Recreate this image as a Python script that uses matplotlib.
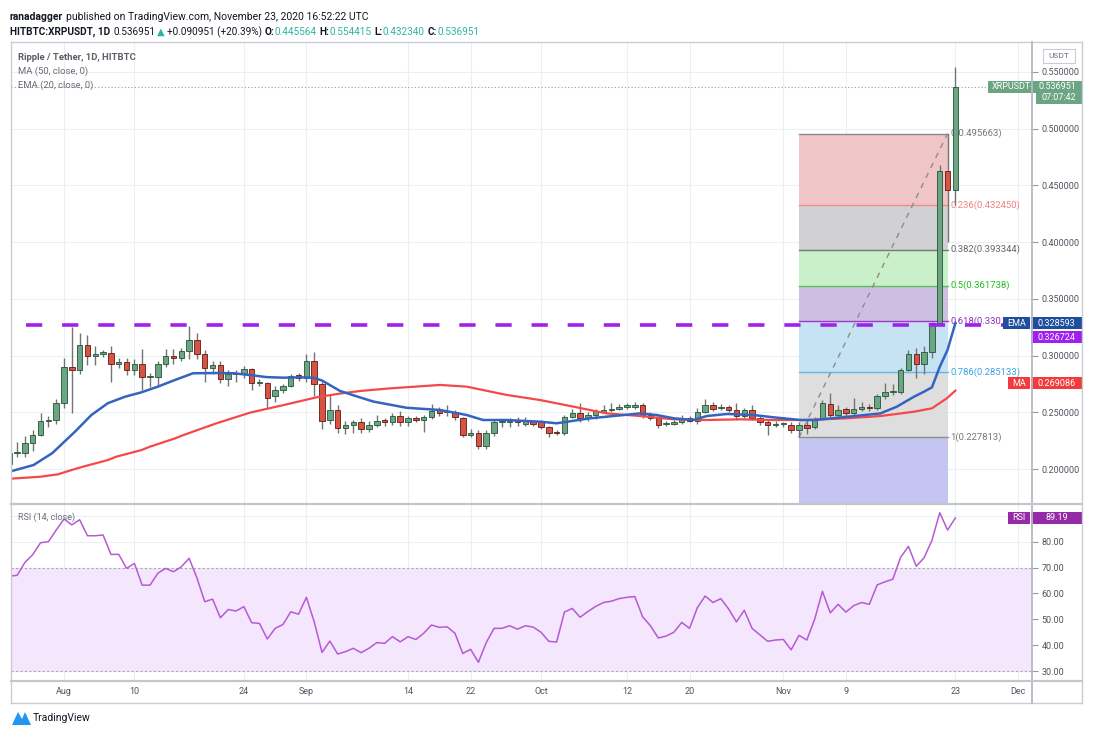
import numpy as np
import pandas as pd
import matplotlib
matplotlib.use('Agg')
import matplotlib.pyplot as plt
import matplotlib.dates as mdates
from matplotlib.transforms import blended_transform_factory, Bbox, TransformedBbox
from matplotlib.lines import Line2D
from matplotlib.patches import Rectangle, Polygon

plt.rcParams['font.family'] = ['Roboto', 'DejaVu Sans']

# ---- daily candles XRP/USDT (HitBTC), Jul 25 .. Nov 23 2020 ----
start_date = '2020-07-25'
end_date = '2020-11-23'

opens = [
    0.204, 0.214, 0.214, 0.223, 0.230, 0.242, 0.243,
    0.258, 0.290, 0.287, 0.309, 0.300, 0.301, 0.302, 0.293, 0.294, 0.287,
    0.293, 0.281, 0.281, 0.293, 0.300, 0.298, 0.304, 0.314, 0.301, 0.289,
    0.292, 0.279, 0.284, 0.284, 0.288, 0.276, 0.276, 0.264, 0.270, 0.273, 0.283,
    0.280, 0.295, 0.275, 0.243, 0.252, 0.236, 0.239, 0.241, 0.235, 0.239,
    0.243, 0.241, 0.247, 0.241, 0.245, 0.243, 0.246, 0.252, 0.250, 0.250,
    0.245, 0.230, 0.232, 0.220, 0.232, 0.241, 0.241, 0.243, 0.240, 0.242,
    0.241, 0.237, 0.232, 0.232, 0.246, 0.249, 0.245, 0.248, 0.250, 0.252,
    0.253, 0.255, 0.255, 0.256, 0.248, 0.245, 0.2395, 0.240, 0.241, 0.245,
    0.242, 0.250, 0.256, 0.2535, 0.255, 0.252, 0.247, 0.252, 0.245, 0.241, 0.239,
    0.2395, 0.239, 0.234, 0.239, 0.237, 0.245, 0.257, 0.248, 0.2526, 0.249,
    0.2526, 0.255, 0.2535, 0.264, 0.268, 0.268, 0.287, 0.301, 0.293, 0.303,
    0.3285, 0.463, 0.445564,
]
highs = [
    0.216, 0.224, 0.229, 0.234, 0.249, 0.247, 0.262,
    0.298, 0.325, 0.320, 0.318, 0.308, 0.305, 0.308, 0.298, 0.298, 0.297,
    0.306, 0.285, 0.295, 0.306, 0.306, 0.307, 0.326, 0.320, 0.305, 0.295,
    0.295, 0.287, 0.287, 0.291, 0.289, 0.279, 0.277, 0.273, 0.275, 0.284, 0.285,
    0.301, 0.303, 0.277, 0.265, 0.256, 0.242, 0.243, 0.245, 0.242, 0.248,
    0.245, 0.249, 0.251, 0.247, 0.247, 0.248, 0.257, 0.255, 0.256, 0.252,
    0.246, 0.235, 0.234, 0.234, 0.244, 0.244, 0.245, 0.246, 0.246, 0.243,
    0.243, 0.238, 0.234, 0.248, 0.253, 0.258, 0.250, 0.253, 0.256, 0.258,
    0.257, 0.258, 0.259, 0.258, 0.250, 0.247, 0.242, 0.243, 0.248, 0.247,
    0.254, 0.262, 0.259, 0.257, 0.256, 0.258, 0.254, 0.256, 0.247, 0.243, 0.242,
    0.241, 0.241, 0.241, 0.243, 0.246, 0.261, 0.267, 0.256, 0.255, 0.263,
    0.259, 0.257, 0.266, 0.276, 0.275, 0.289, 0.305, 0.307, 0.308, 0.330,
    0.468, 0.495663, 0.554415,
]
lows = [
    0.200, 0.211, 0.211, 0.216, 0.229, 0.237, 0.240,
    0.254, 0.249, 0.284, 0.292, 0.292, 0.299, 0.277, 0.289, 0.283, 0.283,
    0.270, 0.272, 0.274, 0.290, 0.293, 0.295, 0.297, 0.297, 0.277, 0.284,
    0.276, 0.273, 0.277, 0.280, 0.270, 0.273, 0.254, 0.259, 0.267, 0.272, 0.278,
    0.277, 0.264, 0.235, 0.240, 0.232, 0.231, 0.232, 0.232, 0.233, 0.237,
    0.238, 0.239, 0.238, 0.238, 0.241, 0.233, 0.244, 0.247, 0.247, 0.243,
    0.228, 0.228, 0.218, 0.218, 0.229, 0.237, 0.237, 0.238, 0.238, 0.238,
    0.235, 0.228, 0.230, 0.230, 0.245, 0.241, 0.242, 0.244, 0.249, 0.250,
    0.252, 0.253, 0.253, 0.245, 0.243, 0.236, 0.238, 0.239, 0.240, 0.241,
    0.240, 0.249, 0.251, 0.252, 0.250, 0.243, 0.245, 0.243, 0.239, 0.230, 0.237,
    0.237, 0.232, 0.227813, 0.231, 0.235, 0.243, 0.246, 0.246, 0.247, 0.247,
    0.251, 0.251, 0.252, 0.262, 0.265, 0.266, 0.286, 0.280, 0.284, 0.298,
    0.327, 0.4005, 0.43234,
]
closes = [
    0.214, 0.215, 0.223, 0.230, 0.242, 0.243, 0.258,
    0.290, 0.287, 0.309, 0.300, 0.301, 0.303, 0.293, 0.294, 0.287, 0.293,
    0.281, 0.282, 0.293, 0.300, 0.298, 0.304, 0.314, 0.301, 0.289, 0.292,
    0.279, 0.284, 0.2835, 0.288, 0.276, 0.2765, 0.263, 0.270, 0.273, 0.282, 0.280,
    0.295, 0.275, 0.242, 0.252, 0.236, 0.239, 0.241, 0.235, 0.239, 0.242,
    0.241, 0.247, 0.241, 0.245, 0.243, 0.246, 0.251, 0.2495, 0.251, 0.246,
    0.230, 0.232, 0.220, 0.232, 0.241, 0.2412, 0.242, 0.241, 0.242, 0.240,
    0.237, 0.232, 0.2315, 0.246, 0.249, 0.245, 0.248, 0.251, 0.252, 0.253,
    0.255, 0.256, 0.2565, 0.248, 0.245, 0.239, 0.240, 0.2415, 0.245, 0.2425,
    0.250, 0.256, 0.253, 0.255, 0.252, 0.247, 0.252, 0.245, 0.241, 0.239, 0.2395,
    0.2398, 0.234, 0.239, 0.236, 0.244, 0.258, 0.248, 0.252, 0.249, 0.2526,
    0.255, 0.2535, 0.264, 0.268, 0.2685, 0.287, 0.301, 0.293, 0.303, 0.3285,
    0.463, 0.4456, 0.536951,
]

# moving averages, sampled along the drawn lines (days after Aug 1)
ema_days = [-6.8, -3.9, -1.5, 1.4, 3.5, 5.6, 7.8, 9.9, 12.0, 14.2, 16.5, 19.5, 21.7,
            24.2, 25.9, 28.1, 30.2, 31.9, 33.0, 35.3, 37.9, 39.6, 43.8, 48.1, 51.5,
            53.6, 56.6, 60.9, 63.0, 67.3, 71.6, 73.7, 75.8, 78.0, 80.5, 82.2, 84.8,
            88.2, 90.7, 94.2, 96.0, 100.1, 104.4, 106.5, 108.7, 110.0, 111.0, 112.0,
            113.0, 114.0]
ema_vals = [0.198, 0.2035, 0.214, 0.2329, 0.2476, 0.258, 0.2637, 0.2676, 0.2726,
            0.2785, 0.2844, 0.2846, 0.2844, 0.2825, 0.281, 0.2805, 0.2808, 0.2805,
            0.278, 0.2688, 0.263, 0.2594, 0.254, 0.252, 0.2476, 0.2432, 0.2432,
            0.2417, 0.2403, 0.2447, 0.2476, 0.249, 0.2476, 0.2447, 0.2432, 0.2467,
            0.2485, 0.2476, 0.2456, 0.2432, 0.2432, 0.246, 0.249, 0.2549, 0.2637,
            0.2682, 0.272, 0.290, 0.305, 0.328593]
ma_days = [-6.8, -3.0, -0.8, 1.4, 2.4, 5.6, 6.7, 9.9, 11.0, 14.2, 15.3, 19.5, 23.8,
           28.1, 32.3, 35.3, 37.9, 41.7, 48.1, 51.5, 56.6, 60.9, 65.2, 69.4, 73.7,
           78.0, 82.2, 86.5, 90.7, 95.0, 100.1, 104.4, 108.7, 111.0, 112.9, 114.0]
ma_vals = [0.1915, 0.1932, 0.1953, 0.200, 0.202, 0.2079, 0.2109, 0.2167, 0.2197,
           0.227, 0.230, 0.2403, 0.2497, 0.2564, 0.2632, 0.2665, 0.2688, 0.2711,
           0.2741, 0.2726, 0.2653, 0.2608, 0.2549, 0.249, 0.2467, 0.2438, 0.2432,
           0.2438, 0.2432, 0.2432, 0.2447, 0.2467, 0.2505, 0.2535, 0.2623, 0.269086]

# RSI(14), one value per candle
rsi = [66.7, 67.0, 72.0, 75.0, 79.6, 80.0, 84.5,
       88.8, 86.5, 88.5, 82.3, 82.3, 82.6, 75.1, 75.1, 69.7, 71.6,
       63.2, 63.2, 67.8, 69.7, 68.4, 70.3, 73.6, 66.0, 56.8, 57.8,
       50.6, 53.8, 53.2, 54.9, 48.7, 48.4, 42.4, 46.5, 48.0, 52.9, 52.0,
       58.5, 49.0, 37.2, 41.6, 36.6, 37.5, 38.8, 37.1, 38.8, 41.0,
       40.7, 43.3, 41.3, 43.3, 42.2, 44.6, 47.8, 46.9, 47.1, 44.6,
       36.8, 38.4, 33.4, 41.0, 46.5, 46.5, 47.5, 46.2, 47.5, 47.0,
       45.0, 41.5, 41.2, 52.8, 54.2, 50.8, 53.0, 55.0, 56.5, 57.0,
       58.0, 58.5, 58.8, 51.0, 47.5, 42.8, 43.5, 45.0, 48.8, 46.5,
       54.5, 59.0, 56.5, 58.0, 54.0, 49.0, 53.5, 46.5, 44.0, 41.5, 42.0,
       42.2, 38.2, 43.8, 42.0, 50.0, 60.8, 52.5, 55.8, 52.8, 55.3,
       56.5, 55.8, 63.3, 64.5, 65.5, 74.0, 78.2, 70.5, 73.8, 80.5,
       91.2, 84.5, 89.19]

# fibonacci retracement drawn from the Nov 3 low to the Nov 22 high
fib_start, fib_end = '2020-11-03', '2020-11-22'
fib_ratios = ['0', '0.236', '0.382', '0.5', '0.618', '0.786', '1', '1.618']
fib_prices = [0.495663, 0.432450, 0.393344, 0.361738, 0.330131, 0.285133, 0.227813, 0.062275]
fib_fill = ['#f0c5c6', '#d0d0d5', '#c9f0c8', '#cebfe2', '#c6e3f4', '#dedede', '#c5c5f1']
fib_line = ['#8a8a8a', '#f28b8b', '#777777', '#55c455', '#9c39c9', '#66b6ee', '#8f8f8f']
fib_text = ['#777777', '#f08080', '#666666', '#22bb22', '#9130c0', '#3ba2e6', '#777777']

resistance = 0.326724
last_price = 0.536951
price_ticks = [0.20, 0.25, 0.30, 0.35, 0.40, 0.45, 0.50, 0.55]
rsi_ticks = [30, 40, 50, 60, 70, 80]
date_ticks = ['2020-08-01', '2020-08-10', '2020-08-24', '2020-09-01', '2020-09-14',
              '2020-09-22', '2020-10-01', '2020-10-12', '2020-10-20', '2020-11-01',
              '2020-11-09', '2020-11-23', '2020-12-01']
date_labels = ['Aug', '10', '24', 'Sep', '14', '22', 'Oct', '12', '20', 'Nov', '9', '23', 'Dec']

# ---- figure ----
W, H = 1101, 735
fig = plt.figure(figsize=(W / 100, H / 100), dpi=100)
fig.patch.set_facecolor('white')


def fx(px):
    return px / W


def fy(py):
    return 1 - py / H


ax = fig.add_axes([fx(11), fy(503), fx(1032) - fx(11), fy(42) - fy(503)])
rax = fig.add_axes([fx(11), fy(680), fx(1032) - fx(11), fy(505) - fy(680)], sharex=ax)

dates = pd.date_range(start_date, end_date, freq='D')
xs = mdates.date2num(dates)
aug1 = mdates.date2num(pd.Timestamp('2020-08-01'))
o, h, l, c = map(np.array, (opens, highs, lows, closes))

grid_c = '#eceef2'
txt_c = '#50535e'
for a in (ax, rax):
    for s in a.spines.values():
        s.set_visible(False)
    a.set_axisbelow(True)
    a.set_xticks(mdates.date2num(pd.to_datetime(date_ticks)))
    a.grid(True, color=grid_c, lw=0.8)
    a.yaxis.tick_right()
    a.tick_params(axis='y', length=4, width=0.8, color='#9598a1', labelcolor=txt_c,
                  labelsize=6.5, pad=3)

ax.set_xlim(aug1 - 6.78, aug1 + 123.8)
ax.set_ylim(0.17004, 0.5764)
ax.set_yticks(price_ticks)
ax.set_yticklabels([f'{v:.6f}' for v in price_ticks])
ax.tick_params(axis='x', length=0, labelbottom=False)

# fibonacci boxes
f0 = mdates.date2num(pd.Timestamp(fib_start))
f1 = mdates.date2num(pd.Timestamp(fib_end))
# the 0.618 label runs under the EMA tag on the price scale, as in the original
label_clip = TransformedBbox(Bbox([[fx(11), 0], [fx(1002), 1]]), fig.transFigure)
for i in range(len(fib_prices) - 1):
    ax.fill_between([f0, f1], fib_prices[i + 1], fib_prices[i], color=fib_fill[i], lw=0, zorder=1)
    ax.plot([f0, f1], [fib_prices[i], fib_prices[i]], color=fib_line[i], lw=1, zorder=1.5)
    t = ax.text(f1 + 0.35, fib_prices[i], f'{fib_ratios[i]}({fib_prices[i]:.6f})', color=fib_text[i],
                fontsize=6.8, va='center', ha='left', zorder=2)
    if fib_ratios[i] == '0.618':
        t.set_clip_box(label_clip)
        t.set_clip_on(True)
ax.plot([f0, f1], [fib_prices[6], fib_prices[0]], color='#8c8c8c', lw=1, ls=(0, (4, 4)), zorder=2)

# last price dotted line
ax.axhline(last_price, color='#9a9ca3', lw=0.8, ls=(0, (1, 2)), zorder=1)

# candles
up = c >= o
body_lo = np.minimum(o, c)
body_h = np.maximum(np.abs(c - o), 0.0009)
ax.vlines(xs, l, h, color='#737375', lw=1, zorder=3)
ax.bar(xs, body_h, bottom=body_lo, width=0.7,
       color=np.where(up, '#6ba583', '#d75442'),
       edgecolor=np.where(up, '#225437', '#5b1a13'), linewidth=0.6, zorder=4)

ax.plot(aug1 + np.array(ma_days), ma_vals, color='#f5484a', lw=1.6, zorder=5)
ax.plot(aug1 + np.array(ema_days), ema_vals, color='#3464c0', lw=1.8, zorder=5)
ax.plot([aug1 - 4.9, ax.get_xlim()[1]], [resistance, resistance], color='#a020f0', lw=2.6,
        ls=(0, (4.5, 5.5)), zorder=6, solid_capstyle='butt')

# RSI panel
rax.set_ylim(26.54, 94.19)
rax.set_yticks(rsi_ticks + [90])
rax.set_yticklabels([f'{v:.2f}' for v in rsi_ticks] + [''])
rax.fill_between([ax.get_xlim()[0], ax.get_xlim()[1]], 30, 70, color='#f3e6fd', lw=0, zorder=1)
for lvl in (30, 70):
    rax.axhline(lvl, color='#a6a8b0', lw=0.8, ls=(0, (2, 2)), zorder=2)
rax.plot(xs, rsi, color='#b65ad4', lw=1.1, zorder=3)
rax.set_xticklabels(date_labels)
rax.tick_params(axis='x', length=0, labelsize=6.5, labelcolor=txt_c, pad=5)


# ---- frame lines ----
def fline(x0, y0, x1, y1, color='#c9ccd3', lw=1.0):
    fig.add_artist(Line2D([fx(x0), fx(x1)], [fy(y0), fy(y1)], color=color, lw=lw,
                          transform=fig.transFigure))


fline(11, 42, 1082, 42)
fline(11, 703, 1082, 703)
fline(11, 42, 11, 703)
fline(1082, 42, 1082, 703)
fline(1032, 42, 1032, 703, color='#b5b8c0', lw=1.3)
fline(11, 504, 1082, 504, color='#c3c6cc', lw=1.6)
fline(11, 680.5, 1082, 680.5, color='#c3c6cc', lw=1.6)


# ---- axis tags ----
def tag(a, y, x0, x1, fc, text, h_px=11.5, tx=None, ha='center', tc='white'):
    lo, hi = a.get_ylim()
    per_px = (hi - lo) / (a.get_position().height * H)
    tr = blended_transform_factory(fig.transFigure, a.transData)
    a.add_patch(Rectangle((fx(x0), y - h_px / 2 * per_px), (x1 - x0) / W, h_px * per_px,
                          transform=tr, fc=fc, ec='none', clip_on=False, zorder=20))
    if tx is None:
        tx = (x0 + x1) / 2
    a.text(fx(tx), y, text, transform=tr, ha=ha, va='center', color=tc, fontsize=6.5,
           clip_on=False, zorder=21)


pp = (0.5764 - 0.17004) / 461
tag(ax, last_price, 988, 1082, '#6ba583', 'XRPUSDT-', tx=1033, ha='right')
ax.text(fx(1057), last_price, f'{last_price:.6f}', transform=blended_transform_factory(fig.transFigure, ax.transData),
        ha='center', va='center', color='white', fontsize=6.5, clip_on=False, zorder=22)
tag(ax, last_price - 11 * pp, 1036, 1082, '#6ba583', '07:07:42')
tag(ax, ema_vals[-1], 1003, 1030, '#1f4e9e', 'EMA')
tag(ax, ema_vals[-1], 1031, 1082, '#1f4e9e', f'{ema_vals[-1]:.6f}')
tag(ax, resistance - 12 * pp, 1031, 1082, '#a020f0', f'{resistance:.6f}')
tag(ax, ma_vals[-1] + 7.5 * pp, 1008, 1030, '#f23b3b', 'MA')
tag(ax, ma_vals[-1] + 7.5 * pp, 1031, 1082, '#f23b3b', f'{ma_vals[-1]:.6f}')
tag(rax, rsi[-1], 1008, 1030, '#952aa6', 'RSI')
tag(rax, rsi[-1], 1031, 1082, '#952aa6', f'{rsi[-1]:.2f}')

# USDT box
fig.add_artist(Rectangle((fx(1043), fy(63)), 32 / W, 14 / H, transform=fig.transFigure,
                         fc='white', ec='#c9ccd3', lw=0.8))
fig.text(fx(1059), fy(56), 'USDT', ha='center', va='center', fontsize=6, color='#6a6d78')

# ---- texts ----
fig.text(fx(18), fy(57), 'Ripple / Tether, 1D, HITBTC', fontsize=6.8, fontweight='bold',
         color='#5b5e68', va='center')
fig.text(fx(18), fy(71), 'MA (50, close, 0)', fontsize=6.8, color='#6a6d78', va='center')
fig.text(fx(18), fy(85), 'EMA (20, close, 0)', fontsize=6.8, color='#6a6d78', va='center')
fig.text(fx(18), fy(517), 'RSI (14, close)', fontsize=6.5, color='#6a6d78', va='center')


def row(x_px, y_px, parts, size):
    r = fig.canvas.get_renderer()
    for s, col, wt, gap in parts:
        t = fig.text(fx(x_px), fy(y_px), s, color=col, fontsize=size, fontweight=wt,
                     va='center', ha='left')
        x_px += t.get_window_extent(r).width + gap


dark = '#131722'
teal = '#2fb4a2'
row(10, 17, [('ranadagger', dark, 'bold', 3),
             ('published on TradingView.com, November 23, 2020 16:52:22 UTC', dark, 'normal', 0)], 7.5)
row(10, 32, [('HITBTC:XRPUSDT, 1D', dark, 'bold', 3),
             ('0.536951', dark, 'normal', 2),
             ('\u25b2', teal, 'normal', 2),
             ('+0.090951 (+20.39%)', dark, 'normal', 3),
             ('O:', dark, 'bold', 0), ('0.445564', teal, 'normal', 3),
             ('H:', dark, 'bold', 0), ('0.554415', teal, 'normal', 3),
             ('L:', dark, 'bold', 0), ('0.432340', teal, 'normal', 3),
             ('C:', dark, 'bold', 0), ('0.536951', teal, 'normal', 0)], 7.2)

# TradingView logo
fig.add_artist(Polygon([(fx(12), fy(725)), (fx(18), fy(712)), (fx(22), fy(719)), (fx(25), fy(712)),
                        (fx(31), fy(725))], closed=True, transform=fig.transFigure,
                       fc='#2196f3', ec='none'))
fig.text(fx(33), fy(718), 'TradingView', fontsize=7.5, color=dark, va='center')

fig.savefig('out.png', dpi=100)
